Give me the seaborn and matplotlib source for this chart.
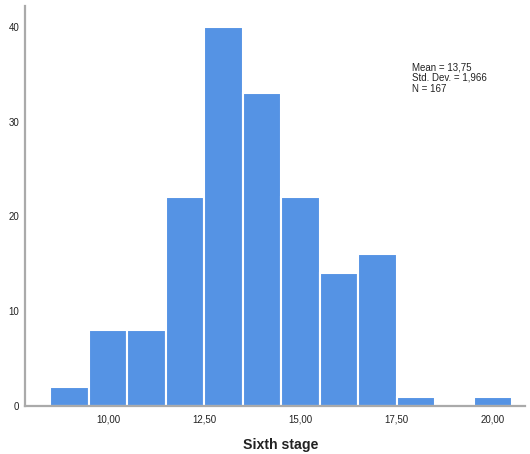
import matplotlib
matplotlib.use("Agg")
import matplotlib.pyplot as plt
import seaborn as sns
import numpy as np
import pandas as pd
from matplotlib.ticker import FuncFormatter

bin_centers = [9, 10, 11, 12, 13, 14, 15, 16, 17, 18, 19, 20]
counts = [2, 8, 8, 22, 40, 33, 22, 14, 16, 1, 0, 1]
x_ticks = [10.0, 12.5, 15.0, 17.5, 20.0]
y_ticks = [0, 10, 20, 30, 40]
stats_text = "Mean = 13,75\nStd. Dev. = 1,966\nN = 167"
xlabel = "Sixth stage"

df = pd.DataFrame({"value": bin_centers, "count": counts})

sns.set_style("white")
plt.rcParams['font.family'] = ['Liberation Sans', 'DejaVu Sans']

fig = plt.figure(figsize=(5.3, 4.54), dpi=100)
ax = fig.add_axes([25/530, 48/454, 500/530, 400/454])

sns.histplot(data=df, x="value", weights="count", binwidth=1.0, binrange=(8.5, 20.5),
             color="#5593E4", alpha=1.0, edgecolor="white", linewidth=1.5, ax=ax)

ax.set_xlim(7.84, 20.83)
ax.set_ylim(0, 42.2)
ax.set_xticks(x_ticks)
ax.set_yticks(y_ticks)
ax.xaxis.set_major_formatter(FuncFormatter(lambda v, p: f"{v:.2f}".replace(".", ",")))
ax.tick_params(axis="both", length=0, labelsize=7, colors="#222222", pad=6)
ax.tick_params(axis="y", pad=4)
for s in ["top", "right"]:
    ax.spines[s].set_visible(False)
for s in ["left", "bottom"]:
    ax.spines[s].set_color("#aaaaaa")
    ax.spines[s].set_linewidth(1.6)
ax.set_ylabel("")
ax.set_xlabel(xlabel, fontsize=10.2, fontweight="bold", color="#222222", labelpad=10)
ax.xaxis.label.set_x((281 - 25) / 500)
ax.text(412/530, 1 - 62/454, stats_text, transform=fig.transFigure, fontsize=7,
        va="top", ha="left", color="#222222", linespacing=1.12)

fig.savefig("out.png", dpi=100)
